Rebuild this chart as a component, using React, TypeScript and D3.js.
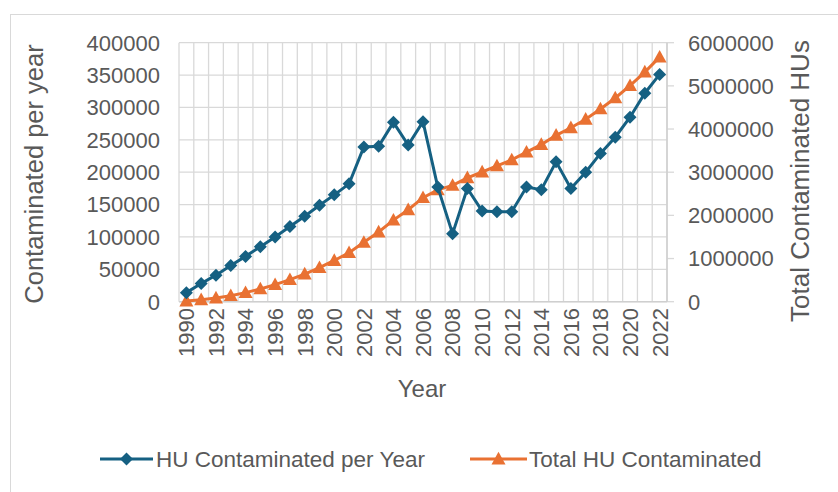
import React from "react";
import * as d3 from "d3";

const years = d3.range(1990, 2023).map(String);
const perYear = [14000, 28000, 41000, 56000, 70000, 85000, 100000, 116000, 132000, 149000, 165000, 182000, 239000, 240000, 277000, 242000, 278000, 177000, 105000, 175000, 140000, 139000, 139000, 177000, 173000, 216000, 175000, 200000, 229000, 254000, 285000, 322000, 351000];
const totals = [15000, 45000, 85000, 140000, 210000, 295000, 395000, 510000, 640000, 790000, 955000, 1135000, 1375000, 1615000, 1890000, 2130000, 2410000, 2590000, 2695000, 2870000, 3005000, 3145000, 3285000, 3465000, 3640000, 3855000, 4030000, 4225000, 4465000, 4720000, 5005000, 5320000, 5665000];
const leftTicks = [0, 50000, 100000, 150000, 200000, 250000, 300000, 350000, 400000];
const rightTicks = [0, 1000000, 2000000, 3000000, 4000000, 5000000, 6000000];
const seriesNames = ["HU Contaminated per Year", "Total HU Contaminated"];

const BLUE = "#156082";
const ORANGE = "#E97132";
const TEXT = "#595959";
const GRID = "#d9d9d9";
const FONT = "'Liberation Sans', Arial, sans-serif";

export default function App() {
  const L = 179, R = 667, T = 42.7, B = 301.7;
  const x = d3.scaleBand().domain(years).range([L, R]);
  const yL = d3.scaleLinear().domain([0, 400000]).range([B, T]);
  const yR = d3.scaleLinear().domain([0, 6000000]).range([B, T]);
  const cx = (i: number) => (x(years[i]) as number) + x.bandwidth() / 2;

  const lineL = d3.line<number>().x((_, i) => cx(i)).y((d) => yL(d));
  const lineR = d3.line<number>().x((_, i) => cx(i)).y((d) => yR(d));
  const diamond = (px: number, py: number, r = 6.5) =>
    `M${px},${py - r}L${px + r},${py}L${px},${py + r}L${px - r},${py}Z`;
  const tri = (px: number, py: number, w = 7, h = 12) =>
    `M${px},${py - h * 0.6}L${px + w},${py + h * 0.45}L${px - w},${py + h * 0.45}Z`;

  const boundaries = years.map((y) => x(y) as number).concat([R]);

  return (
    <svg width={838} height={492} style={{ position: "absolute", left: 0, top: 0, background: "#fff" }} fontFamily={FONT}>
      <rect x={10.5} y={14.5} width={900} height={600} fill="#fff" stroke="#d9d9d9" strokeWidth={1} />
      {leftTicks.map((t) => (
        <line key={"h" + t} x1={L} x2={R} y1={yL(t)} y2={yL(t)} stroke={GRID} strokeWidth={1.3} />
      ))}
      {boundaries.map((bx, i) => (
        <line key={"v" + i} x1={bx} x2={bx} y1={T} y2={B} stroke={GRID} strokeWidth={1.3} />
      ))}
      {rightTicks.map((t) => (
        <line key={"rt" + t} x1={R} x2={R + 7} y1={yR(t)} y2={yR(t)} stroke={GRID} strokeWidth={1.3} />
      ))}
      <line x1={L} x2={R} y1={B} y2={B} stroke="#cfcfcf" strokeWidth={1.5} />
      <line x1={R} x2={R} y1={T} y2={B} stroke="#cfcfcf" strokeWidth={1.5} />

      {leftTicks.map((t) => (
        <text key={"lt" + t} x={160} y={yL(t)} dy="0.36em" textAnchor="end" fontSize={22} fill={TEXT}>{t}</text>
      ))}
      {rightTicks.map((t) => (
        <text key={"rl" + t} x={688} y={yR(t)} dy="0.36em" textAnchor="start" fontSize={22} fill={TEXT}>{t}</text>
      ))}
      {years.map((yr, i) => i % 2 === 0 ? (
        <text key={"xl" + yr} transform={`translate(${cx(i)},${308}) rotate(-90)`} dy="0.36em" textAnchor="end" fontSize={22} fill={TEXT}>{yr}</text>
      ) : null)}

      <text x={422} y={388} dy="0.36em" textAnchor="middle" fontSize={24} fill={TEXT}>Year</text>
      <text transform="translate(34,174) rotate(-90)" dy="0.36em" textAnchor="middle" fontSize={25.5} fill={TEXT}>Contaminated per year</text>
      <text transform="translate(800,181) rotate(-90)" dy="0.36em" textAnchor="middle" fontSize={26} fill={TEXT}>Total Contaminated HUs</text>

      <path d={lineR(totals) as string} fill="none" stroke={ORANGE} strokeWidth={3} />
      {totals.map((v, i) => (
        <path key={"tm" + i} d={tri(cx(i), yR(v))} fill={ORANGE} />
      ))}
      <path d={lineL(perYear) as string} fill="none" stroke={BLUE} strokeWidth={3} />
      {perYear.map((v, i) => (
        <path key={"pm" + i} d={diamond(cx(i), yL(v))} fill={BLUE} />
      ))}

      <line x1={100} x2={153} y1={459} y2={459} stroke={BLUE} strokeWidth={3} />
      <path d={diamond(126.5, 459)} fill={BLUE} />
      <text x={156} y={459} dy="0.36em" fontSize={22.5} fill={TEXT}>{seriesNames[0]}</text>
      <line x1={470} x2={527} y1={459} y2={459} stroke={ORANGE} strokeWidth={3} />
      <path d={tri(498.5, 459)} fill={ORANGE} />
      <text x={529} y={459} dy="0.36em" fontSize={22.5} fill={TEXT}>{seriesNames[1]}</text>
    </svg>
  );
}
